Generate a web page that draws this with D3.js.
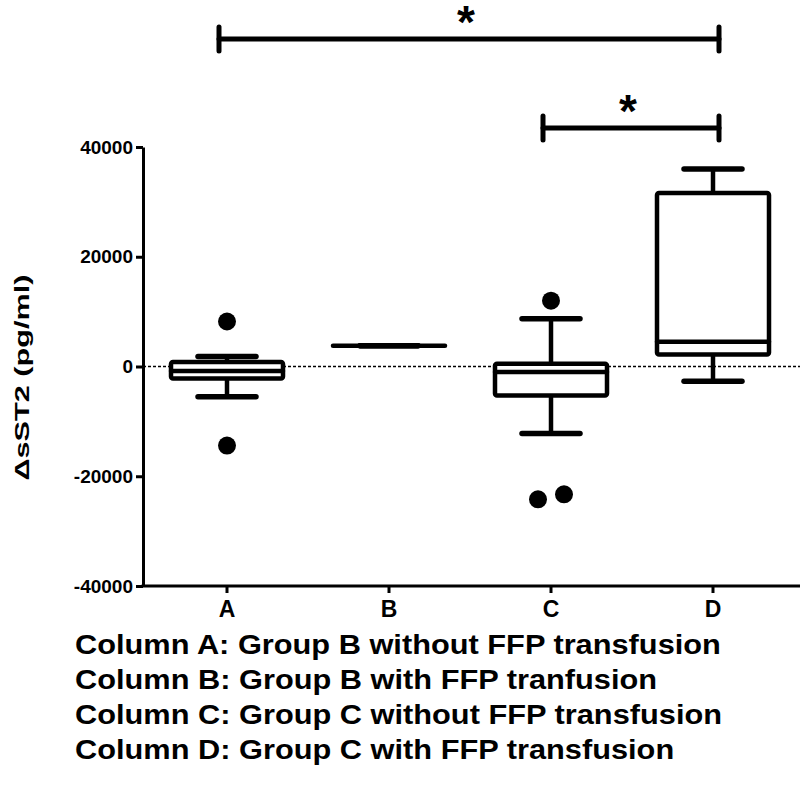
<!DOCTYPE html>
<html lang="en">
<head>
<meta charset="UTF-8">
<title>sST2 box plot</title>
<script src="https://d3js.org/d3.v7.min.js"></script>
<style>
  body { margin: 0; background: #fff; }
  svg { font-family: "Liberation Sans", Arial, sans-serif; font-weight: bold; }
</style>
</head>
<body>
<svg id="chart" width="800" height="787"></svg>
<script>
// data
const groups = ["A", "B", "C", "D"]
const whiskLow = [-5500, 3800, -12200, -2700]
const q1 = [-2200, 3800, -5300, 2200]
const median = [-800, 3800, -1000, 4500]
const q3 = [800, 3800, 500, 31600]
const whiskHigh = [1800, 3800, 8700, 36000]
const outlierGroup = ["A", "A", "C", "C", "C"]
const outlierValue = [8200, -14400, 12000, -24200, -23300]
const yTicks = [-40000, -20000, 0, 20000, 40000]
const sigPairs = [["A", "D"], ["C", "D"]]
const sigLabels = ["*", "*"]
const legendLines = [
  "Column A: Group B without FFP transfusion",
  "Column B: Group B with FFP tranfusion",
  "Column C: Group C without FFP transfusion",
  "Column D: Group C with FFP transfusion"
]

let svg = d3.select('#chart')

let y = d3.scaleLinear().domain([-40000, 40000]).range([586, 147])
let x = d3.scaleBand().domain(groups).range([146, 794])
let cx = g => x(g) + x.bandwidth() / 2
let boxW = 112
let capW = 58
let sw = 4.5

// dotted zero line
svg.append('line')
   .attr('x1', 143).attr('x2', 800)
   .attr('y1', y(0)).attr('y2', y(0))
   .attr('stroke', '#000').attr('stroke-width', 1.6)
   .attr('stroke-dasharray', '3,2')

// y axis
let yAxis = svg.append('g')
   .attr('transform', 'translate(143,0)')
   .call(d3.axisLeft(y).tickValues(yTicks).tickFormat(d => String(d)).tickSize(7).tickSizeOuter(0).tickPadding(3))
yAxis.attr('font-family', null).attr('font-size', null)
yAxis.select('.domain').attr('stroke-width', 3)
yAxis.selectAll('.tick line').attr('stroke-width', 3)
yAxis.selectAll('.tick text').attr('font-size', 19).attr('fill', '#000')

// x axis
let xAxis = svg.append('g')
   .attr('transform', 'translate(0,586)')
   .call(d3.axisBottom(x).tickSize(7).tickSizeOuter(0).tickPadding(8))
xAxis.attr('font-family', null).attr('font-size', null)
xAxis.select('.domain').attr('d', 'M141.5,0H800').attr('stroke-width', 3)
xAxis.selectAll('.tick line').attr('stroke-width', 3)
xAxis.selectAll('.tick text').attr('font-size', 23).attr('fill', '#000')

// axis title (stretched along its length like the original)
svg.append('text')
   .attr('transform', 'translate(29,' + y(-2000) + ') rotate(-90)')
   .attr('text-anchor', 'middle')
   .attr('font-size', 21)
   .attr('textLength', 206)
   .attr('lengthAdjust', 'spacingAndGlyphs')
   .text('ΔsST2 (pg/ml)')

// boxes
let box = svg.selectAll('g.box')
   .data(groups)
   .enter()
   .append('g')
   .attr('class', 'box')

box.append('line')
   .attr('x1', cx).attr('x2', cx)
   .attr('y1', (g, i) => y(q3[i])).attr('y2', (g, i) => y(whiskHigh[i]))
   .attr('stroke', '#000').attr('stroke-width', sw)
box.append('line')
   .attr('x1', cx).attr('x2', cx)
   .attr('y1', (g, i) => y(q1[i])).attr('y2', (g, i) => y(whiskLow[i]))
   .attr('stroke', '#000').attr('stroke-width', sw)

box.append('rect')
   .attr('x', g => cx(g) - boxW / 2)
   .attr('width', boxW)
   .attr('y', (g, i) => y(q3[i]))
   .attr('height', (g, i) => y(q1[i]) - y(q3[i]))
   .attr('fill', '#fff')
   .attr('stroke', '#000').attr('stroke-width', sw)
   .attr('stroke-linejoin', 'round')
   .attr('rx', 2)

box.append('line')
   .attr('x1', g => cx(g) - boxW / 2).attr('x2', g => cx(g) + boxW / 2)
   .attr('y1', (g, i) => y(median[i])).attr('y2', (g, i) => y(median[i]))
   .attr('stroke', '#000').attr('stroke-width', sw).attr('stroke-linecap', 'round')

// whisker caps
;[whiskHigh, whiskLow].forEach(arr => {
  box.append('line')
     .attr('x1', g => cx(g) - capW / 2).attr('x2', g => cx(g) + capW / 2)
     .attr('y1', (g, i) => y(arr[i])).attr('y2', (g, i) => y(arr[i]))
     .attr('stroke', '#000').attr('stroke-width', 5.5).attr('stroke-linecap', 'round')
})

// outliers, spread apart when two sit at almost the same value
let dots = outlierValue.map((v, i) => ({ g: outlierGroup[i], v: v, dx: 0 }))
dots.forEach((a, i) => {
  dots.forEach((b, j) => {
    if (j > i && a.g === b.g && Math.abs(y(a.v) - y(b.v)) < 14) {
      a.dx = -13
      b.dx = 13
    }
  })
})
svg.selectAll('circle.out')
   .data(dots)
   .enter()
   .append('circle')
   .attr('class', 'out')
   .attr('cx', d => cx(d.g) + d.dx)
   .attr('cy', d => y(d.v))
   .attr('r', 9)
   .attr('fill', '#000')

// significance brackets
let bracketY = [39, 128]
sigPairs.forEach((p, i) => {
  let x1 = cx(p[0]) - 8
  let x2 = cx(p[1]) + 6
  let by = bracketY[i]
  let br = svg.append('g')
  br.append('line').attr('x1', x1).attr('x2', x2).attr('y1', by).attr('y2', by)
  br.append('line').attr('x1', x1).attr('x2', x1).attr('y1', by - 12).attr('y2', by + 12)
  br.append('line').attr('x1', x2).attr('x2', x2).attr('y1', by - 12).attr('y2', by + 12)
  br.selectAll('line')
    .attr('stroke', '#000').attr('stroke-width', 5).attr('stroke-linecap', 'round')
  br.append('text')
    .attr('x', (x1 + x2) / 2 - 3)
    .attr('y', by - 1)
    .attr('text-anchor', 'middle')
    .attr('font-size', 46)
    .text(sigLabels[i])
})

// legend text under the chart, widened to the original's proportions
let leg = svg.selectAll('text.legend')
   .data(legendLines)
   .enter()
   .append('text')
   .attr('class', 'legend')
   .attr('font-size', 27)
   .text(d => d)
let w0 = leg.node().getComputedTextLength()
let sx = 646 / w0
leg.attr('transform', (d, i) => 'translate(75,' + (654 + i * 35) + ') scale(' + sx + ',1)')
</script>
</body>
</html>
